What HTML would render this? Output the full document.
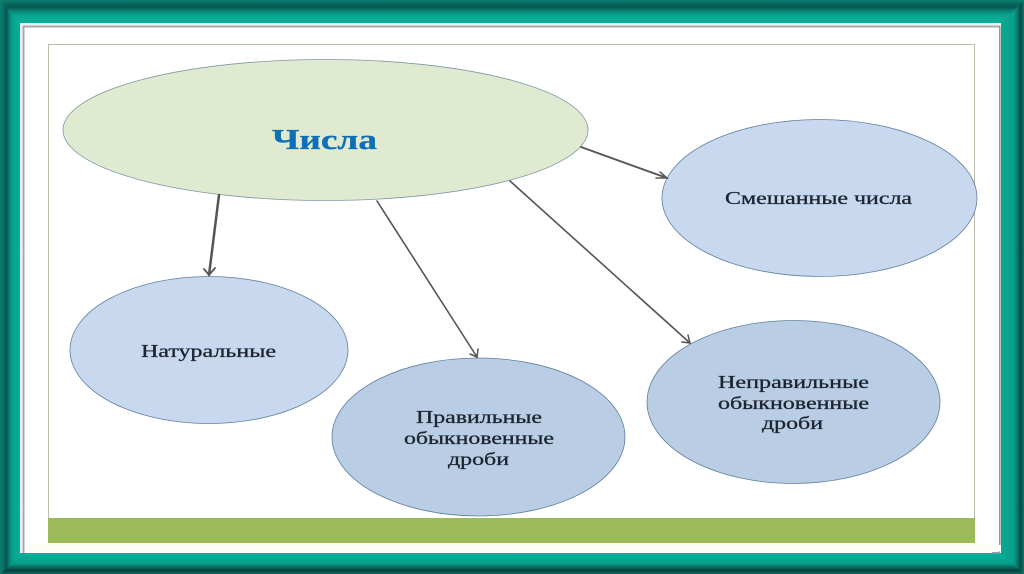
<!DOCTYPE html>
<html><head><meta charset="utf-8"><style>
html,body{margin:0;padding:0;width:1024px;height:574px;overflow:hidden;background:#fff}
svg{display:block}
text{font-family:"Liberation Serif","DejaVu Serif",serif;fill:#1c2430;stroke:#1c2430;stroke-width:.3}
</style></head><body>
<svg width="1024" height="574" viewBox="0 0 1024 574" xmlns="http://www.w3.org/2000/svg">
<defs>
<linearGradient id="t" gradientUnits="userSpaceOnUse" x1="0" y1="0" x2="0" y2="24"><stop offset="0" stop-color="#0b7f72"/><stop offset=".14" stop-color="#0a6a60"/><stop offset=".3" stop-color="#08544e"/><stop offset=".42" stop-color="#0a7a6c"/><stop offset=".62" stop-color="#06a58f"/><stop offset="1" stop-color="#0ab09a"/></linearGradient>
<linearGradient id="b" gradientUnits="userSpaceOnUse" x1="0" y1="553" x2="0" y2="574"><stop offset="0" stop-color="#0ab09a"/><stop offset=".5" stop-color="#07a08c"/><stop offset=".62" stop-color="#0a7a6c"/><stop offset=".82" stop-color="#07403c"/><stop offset="1" stop-color="#0a6a60"/></linearGradient>
<linearGradient id="l" gradientUnits="userSpaceOnUse" x1="0" y1="0" x2="22" y2="0"><stop offset="0" stop-color="#0b7f72"/><stop offset=".18" stop-color="#0a6a60"/><stop offset=".3" stop-color="#08544e"/><stop offset=".45" stop-color="#0a8a7a"/><stop offset=".62" stop-color="#06a58f"/><stop offset="1" stop-color="#0ab09a"/></linearGradient>
<linearGradient id="r" gradientUnits="userSpaceOnUse" x1="1001" y1="0" x2="1024" y2="0"><stop offset="0" stop-color="#0aa892"/><stop offset=".55" stop-color="#07a08c"/><stop offset=".7" stop-color="#0a7a6c"/><stop offset=".85" stop-color="#084a45"/><stop offset="1" stop-color="#0a7a6e"/></linearGradient>
</defs>
<rect width="1024" height="574" fill="#07a08c"/>
<polygon points="0,0 1024,0 1001,24 22,24" fill="url(#t)"/>
<polygon points="0,574 1024,574 1001,553 22,553" fill="url(#b)"/>
<polygon points="0,0 22,24 22,553 0,574" fill="url(#l)"/>
<polygon points="1024,0 1001,24 1001,553 1024,574" fill="url(#r)"/>
<rect x="20" y="23" width="981" height="530" fill="#e4f7f3"/>
<rect x="22" y="25" width="979" height="528" fill="#fff"/>
<path d="M23.500 553 V26.500 H1000" fill="none" stroke="#aaa6ae" stroke-width="2"/>
<path d="M999.800 26 V545" fill="none" stroke="#8e8e96" stroke-width="1.500"/>
<path d="M992 552.500 H1000" fill="none" stroke="#9aa0a8" stroke-width="2"/>
<rect x="48.500" y="44.500" width="926" height="490" fill="#fff" stroke="#bcbcac" stroke-width="1"/>
<rect x="48" y="518" width="927" height="25" fill="#9bbb59"/>
<rect x="26" y="544" width="972" height="8" fill="#fdfdf7"/>

<ellipse cx="325.500" cy="130" rx="262.500" ry="70.500" fill="#e0ead0" stroke="#7f97a5" stroke-width=".8"/>
<ellipse cx="819.500" cy="198" rx="157.500" ry="78.500" fill="#c8d8ef" stroke="#5f7f9f" stroke-width=".8"/>
<ellipse cx="209" cy="350" rx="139" ry="73.500" fill="#c8d8ef" stroke="#5f7f9f" stroke-width=".8"/>
<ellipse cx="478.500" cy="437" rx="146.500" ry="79" fill="#b9cde4" stroke="#5f7f9f" stroke-width=".8"/>
<ellipse cx="793.500" cy="402" rx="146.500" ry="81.500" fill="#b9cde4" stroke="#5f7f9f" stroke-width=".8"/>

<g fill="none" stroke="#555" stroke-linecap="round">
<path d="M219 195 L209 275" stroke-width="2.500"/>
<path d="M204 269 L209 275 L215 268" stroke-width="1.800"/>
<path d="M377 201 L477 357" stroke-width="1.600"/>
<path d="M470 354 L477 357 L478 349" stroke-width="1.500"/>
<path d="M510 181 L690 343" stroke-width="1.600"/>
<path d="M682 342 L690 343 L688 335" stroke-width="1.500"/>
<path d="M581 147 L667 178" stroke-width="1.900"/>
<path d="M656 178 L667 178 L660 172" stroke-width="1.500"/>
</g>

<text x="272" y="149" font-size="29" font-weight="bold" textLength="105" lengthAdjust="spacingAndGlyphs" style="fill:#0e6fb5;stroke:#0e6fb5">Числа</text>
<text x="725" y="204" font-size="17.500" textLength="187" lengthAdjust="spacingAndGlyphs">Смешанные числа</text>
<text x="141" y="357" font-size="17.500" textLength="135" lengthAdjust="spacingAndGlyphs">Натуральные</text>
<text x="416" y="423" font-size="17.500" textLength="126" lengthAdjust="spacingAndGlyphs">Правильные</text>
<text x="404" y="444" font-size="17.500" textLength="150" lengthAdjust="spacingAndGlyphs">обыкновенные</text>
<text x="448" y="465" font-size="17.500" textLength="61" lengthAdjust="spacingAndGlyphs">дроби</text>
<text x="718" y="388" font-size="17.500" textLength="151" lengthAdjust="spacingAndGlyphs">Неправильные</text>
<text x="718" y="409" font-size="17.500" textLength="151" lengthAdjust="spacingAndGlyphs">обыкновенные</text>
<text x="762" y="429" font-size="17.500" textLength="61" lengthAdjust="spacingAndGlyphs">дроби</text>
</svg>
</body></html>
